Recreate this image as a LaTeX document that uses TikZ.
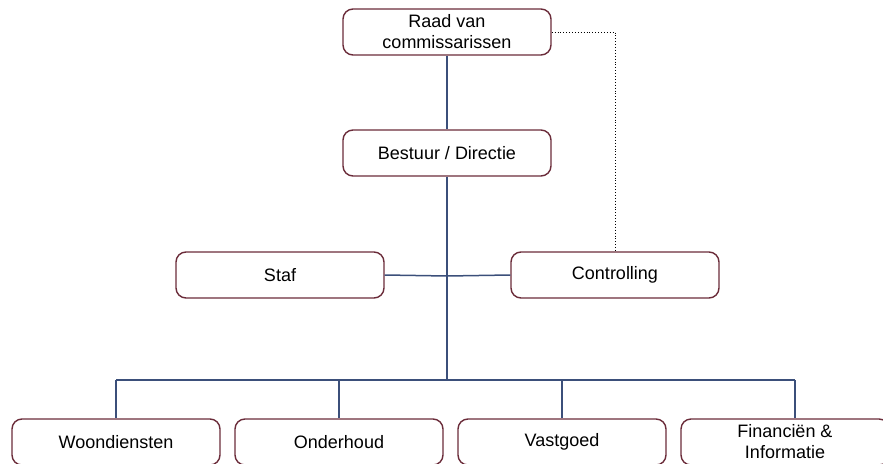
\documentclass[tikz,border=0pt]{standalone}
\usepackage{fontspec}
\setmainfont{Liberation Sans}
\definecolor{boxline}{HTML}{6B2C3A}
\definecolor{conn}{HTML}{3B4F7A}
\begin{document}
\begin{tikzpicture}[x=1pt,y=-1pt,
  orgbox/.style={draw=boxline,line width=1.4pt,rounded corners=10pt,fill=white,
    minimum width=208pt,minimum height=46pt,inner sep=2pt,align=center,
    font=\fontsize{18}{21}\selectfont},
  link/.style={draw=conn,line width=1.5pt},
  dotlink/.style={draw=black,line width=0.9pt,dotted}]
\useasboundingbox (0,0) rectangle (883,463);
\clip (0,0) rectangle (883,463);
\node[orgbox] (raad) at (447,32) {Raad van\\commissarissen};
\node[orgbox] (best) at (447,153) {Bestuur / Directie};
\node[orgbox] (staf) at (280,275) {Staf};
\node[orgbox] (ctrl) at (615,275) {Controlling};
\node[orgbox] (wd) at (116,442) {Woondiensten};
\node[orgbox] (oh) at (339,442) {Onderhoud};
\node[orgbox] (vg) at (562,442) {Vastgoed};
\node[orgbox] (fin) at (785,442) {Financiën \&\\Informatie};
\coordinate (bus) at (447,380);
\coordinate (busL) at (116,380);
\coordinate (busR) at (795,380);
\coordinate (hub) at (447,276);
\path[link] (raad.south) -- (best.north);
\path[link] (best.south) -- (bus);
\path[link] (staf.east) -- (hub) -- (ctrl.west);
\path[link] (busL) -- (busR);
\path[link] (busL) -- (wd.north);
\path[link] (bus -| oh.north) -- (oh.north);
\path[link] (bus -| vg.north) -- (vg.north);
\path[link] (busR) -- (busR |- fin.north);
\path[dotlink] (raad.east) -| (ctrl.north);
\end{tikzpicture}
\end{document}
